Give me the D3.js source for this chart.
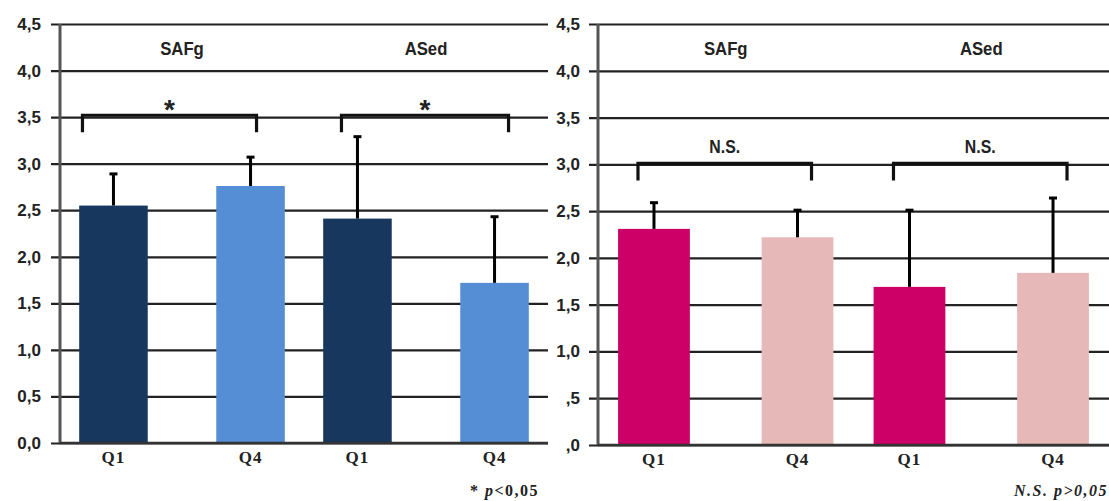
<!DOCTYPE html>
<html>
<head>
<meta charset="utf-8">
<script src="https://cdn.jsdelivr.net/npm/d3@7/dist/d3.min.js"></script>
<style>
  html, body { margin: 0; padding: 0; background: #fff; }
  svg { display: block; }
  .narrow { transform-box: fill-box; transform-origin: center; transform: scaleX(0.88); }
</style>
</head>
<body>
<svg id="chart" width="1109" height="501"></svg>
<script>
// Groups and quartile bars (same layout in both panels)
const groups = ["SAFg", "ASed"];
const quartiles = ["Q1", "Q4"];

// Y axis ticks and their printed labels
const yTicks = [0, 0.5, 1, 1.5, 2, 2.5, 3, 3.5, 4, 4.5];
const leftTickLabels = ["0,0", "0,5", "1,0", "1,5", "2,0", "2,5", "3,0", "3,5", "4,0", "4,5"];
const rightTickLabels = [",0", ",5", "1,0", "1,5", "2,0", "2,5", "3,0", "3,5", "4,0", "4,5"];

// Left panel: means and SD, order SAFg Q1, SAFg Q4, ASed Q1, ASed Q4
const leftMeans = [2.55, 2.76, 2.41, 1.72];
const leftSD = [0.34, 0.31, 0.88, 0.71];
const leftColors = ["#17375E", "#558ED5"];
const leftSignif = ["*", "*"];
const leftBracketLevel = 3.52;
const leftNote = ["* ", "p", "<0,05"];

// Right panel
const rightMeans = [2.31, 2.22, 1.69, 1.84];
const rightSD = [0.28, 0.29, 0.82, 0.80];
const rightColors = ["#CC0066", "#E6B9B8"];
const rightSignif = ["N.S.", "N.S."];
const rightBracketLevel = 3.01;
const rightNote = ["N.S. ", "p", ">0,05"];

const svg = d3.select("#chart");
const sansFont = "'Liberation Sans', Arial, sans-serif";
const serifFont = "'Liberation Serif', 'Times New Roman', serif";

function drawPanel(opt) {
  const g = svg.append("g");
  const y = d3.scaleLinear().domain([0, 4.5]).range([opt.yBottom, opt.yTop]);

  // gridlines + tick labels
  const labelFor = new Map(yTicks.map((t, i) => [t, opt.tickLabels[i]]));
  const axis = d3.axisLeft(y)
    .tickValues(yTicks)
    .tickSize(-(opt.gridEnd - opt.tickStart))
    .tickPadding(opt.tickPadding)
    .tickFormat(d => labelFor.get(d));
  const ax = g.append("g")
    .attr("transform", `translate(${opt.tickStart},0)`)
    .call(axis);
  ax.select(".domain").remove();
  ax.selectAll(".tick line").attr("stroke", "#222").attr("stroke-width", 2.2);
  ax.selectAll(".tick text")
    .attr("font-family", sansFont)
    .attr("font-weight", "bold")
    .attr("font-size", 17)
    .attr("fill", "#222");

  // vertical axis line
  g.append("line")
    .attr("x1", opt.axisX).attr("x2", opt.axisX)
    .attr("y1", y(4.5)).attr("y2", y(0))
    .attr("stroke", "#555").attr("stroke-width", 3);

  // band scales: groups, then quartiles inside each group
  const x0 = d3.scaleBand().domain(groups).range([opt.axisX, opt.gridEnd]).paddingInner(0).paddingOuter(0);
  const x1 = d3.scaleBand().domain(quartiles).range([0, x0.bandwidth()]).paddingInner(0.5).paddingOuter(0.14);

  const rows = [];
  groups.forEach((grp, gi) => {
    quartiles.forEach((q, qi) => {
      const i = gi * quartiles.length + qi;
      rows.push({ grp, q, qi, mean: opt.means[i], sd: opt.sd[i] });
    });
  });
  const bx = d => x0(d.grp) + x1(d.q);
  const cx = d => bx(d) + x1.bandwidth() / 2;

  // bars
  g.selectAll("rect.bar").data(rows).join("rect")
    .attr("class", "bar")
    .attr("x", bx)
    .attr("width", x1.bandwidth())
    .attr("y", d => y(d.mean))
    .attr("height", d => y(0) - y(d.mean))
    .attr("fill", d => opt.colors[d.qi]);

  // upper error bars
  g.selectAll("line.err").data(rows).join("line")
    .attr("class", "err")
    .attr("x1", cx).attr("x2", cx)
    .attr("y1", d => y(d.mean)).attr("y2", d => y(d.mean + d.sd))
    .attr("stroke", "#000").attr("stroke-width", 3);
  g.selectAll("line.cap").data(rows).join("line")
    .attr("class", "cap")
    .attr("x1", d => cx(d) - 4).attr("x2", d => cx(d) + 4)
    .attr("y1", d => y(d.mean + d.sd)).attr("y2", d => y(d.mean + d.sd))
    .attr("stroke", "#000").attr("stroke-width", 3);

  // baseline
  g.append("line")
    .attr("x1", opt.axisX).attr("x2", opt.gridEnd)
    .attr("y1", y(0)).attr("y2", y(0))
    .attr("stroke", "#333").attr("stroke-width", 2.5);

  // quartile labels
  g.selectAll("text.q").data(rows).join("text")
    .attr("class", "q")
    .attr("x", cx)
    .attr("y", y(0) + 20)
    .attr("text-anchor", "middle")
    .attr("font-family", serifFont)
    .attr("font-weight", "bold")
    .attr("font-size", 17)
    .attr("letter-spacing", 1)
    .attr("fill", "#222")
    .text(d => d.q);

  // group titles
  g.selectAll("text.grp").data(groups).join("text")
    .attr("class", "grp narrow")
    .attr("x", d => x0(d) + x0.bandwidth() / 2)
    .attr("y", 55)
    .attr("text-anchor", "middle")
    .attr("font-family", sansFont)
    .attr("font-weight", "bold")
    .attr("font-size", 19)
    .attr("fill", "#222")
    .text(d => d);

  // significance brackets
  const by = y(opt.bracketLevel);
  const drop = 17;
  groups.forEach((grp, gi) => {
    const isStar = opt.signif[gi] === "*";
    const xa = x0(grp) + x1("Q1") + x1.bandwidth() / 2 - (gi === 0 && isStar ? 31 : 16);
    const xb = x0(grp) + x1("Q4") + x1.bandwidth() / 2 + (gi === 0 && isStar ? 6 : 14);
    g.append("path")
      .attr("d", `M${xa},${by + drop}V${by}H${xb}V${by + drop}`)
      .attr("fill", "none")
      .attr("stroke", "#111")
      .attr("stroke-width", 3.2);
    g.append("text")
      .attr("class", isStar ? null : "narrow")
      .attr("x", (xa + xb) / 2)
      .attr("y", isStar ? by + 4 : by - 10)
      .attr("text-anchor", "middle")
      .attr("font-family", sansFont)
      .attr("font-weight", "bold")
      .attr("font-size", isStar ? 28 : 18)
      .attr("fill", "#222")
      .text(opt.signif[gi]);
  });

  // footnote
  const note = g.append("text")
    .attr("x", opt.noteX)
    .attr("y", 496)
    .attr("text-anchor", "end")
    .attr("font-family", serifFont)
    .attr("font-weight", "bold")
    .attr("font-size", 16)
    .attr("letter-spacing", 1.5)
    .attr("fill", "#222");
  note.append("tspan").attr("font-style", opt.noteItalicAll ? "italic" : "normal").text(opt.note[0]);
  note.append("tspan").attr("font-style", "italic").text(opt.note[1]);
  note.append("tspan").attr("font-style", opt.noteItalicAll ? "italic" : "normal").text(opt.note[2]);
}

drawPanel({
  yTop: 24, yBottom: 443,
  tickStart: 51, axisX: 60, gridEnd: 548, tickPadding: 10,
  tickLabels: leftTickLabels,
  means: leftMeans, sd: leftSD, colors: leftColors,
  signif: leftSignif, bracketLevel: leftBracketLevel,
  note: leftNote, noteX: 539, noteItalicAll: false
});

drawPanel({
  yTop: 24, yBottom: 445,
  tickStart: 589, axisX: 598, gridEnd: 1109, tickPadding: 9,
  tickLabels: rightTickLabels,
  means: rightMeans, sd: rightSD, colors: rightColors,
  signif: rightSignif, bracketLevel: rightBracketLevel,
  note: rightNote, noteX: 1108, noteItalicAll: true
});
</script>
</body>
</html>
